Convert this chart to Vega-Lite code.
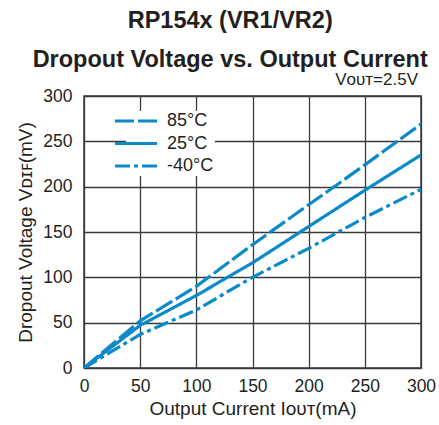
{
  "$schema": "https://vega.github.io/schema/vega-lite/v6.json",
  "autosize": "none",
  "width": 337,
  "height": 272,
  "padding": {"left": 84, "top": 96, "right": 18, "bottom": 57},
  "background": "white",
  "config": {
    "font": "Liberation Sans",
    "view": {"stroke": "#3a3a3a", "strokeWidth": 1.5},
    "axis": {
      "grid": true,
      "gridColor": "#3a3a3a",
      "gridWidth": 1.3,
      "gridOpacity": 1,
      "domain": false,
      "ticks": false,
      "labelFlush": false,
      "labelFont": "Liberation Sans",
      "labelFontSize": 17.5,
      "labelColor": "#231f20",
      "titleFont": "Liberation Sans",
      "titleFontSize": 19,
      "titleFontWeight": "normal",
      "titleColor": "#231f20"
    }
  },
  "title": {
    "text": ["RP154x (VR1/VR2)", "Dropout Voltage vs. Output Current"],
    "font": "Liberation Sans",
    "fontSize": 23.5,
    "fontWeight": "bold",
    "color": "#231f20",
    "anchor": "middle",
    "frame": "bounds",
    "lineHeight": 39,
    "offset": 0,
    "dx": 4
  },
  "data": {
    "values": [
      {"current": 0, "dropout": 0, "temp": "85°C"},
      {"current": 50, "dropout": 52, "temp": "85°C"},
      {"current": 100, "dropout": 90, "temp": "85°C"},
      {"current": 150, "dropout": 136, "temp": "85°C"},
      {"current": 200, "dropout": 180, "temp": "85°C"},
      {"current": 250, "dropout": 224, "temp": "85°C"},
      {"current": 300, "dropout": 269, "temp": "85°C"},
      {"current": 0, "dropout": 0, "temp": "25°C"},
      {"current": 50, "dropout": 47, "temp": "25°C"},
      {"current": 100, "dropout": 80, "temp": "25°C"},
      {"current": 150, "dropout": 116, "temp": "25°C"},
      {"current": 200, "dropout": 156, "temp": "25°C"},
      {"current": 250, "dropout": 196, "temp": "25°C"},
      {"current": 300, "dropout": 235, "temp": "25°C"},
      {"current": 0, "dropout": 0, "temp": "-40°C"},
      {"current": 50, "dropout": 37, "temp": "-40°C"},
      {"current": 100, "dropout": 64, "temp": "-40°C"},
      {"current": 150, "dropout": 100, "temp": "-40°C"},
      {"current": 200, "dropout": 132, "temp": "-40°C"},
      {"current": 250, "dropout": 166, "temp": "-40°C"},
      {"current": 300, "dropout": 197, "temp": "-40°C"}
    ]
  },
  "layer": [
    {
      "mark": {"type": "line", "color": "#0a8acb", "strokeWidth": 3.2, "clip": true},
      "encoding": {
        "x": {
          "field": "current", "type": "quantitative",
          "scale": {"domain": [0, 300], "nice": false},
          "axis": {"values": [0, 50, 100, 150, 200, 250, 300], "title": "Output Current Iᴏᴜᴛ(mA)", "labelPadding": 9, "titlePadding": 5}
        },
        "y": {
          "field": "dropout", "type": "quantitative",
          "scale": {"domain": [0, 300], "nice": false},
          "axis": {"values": [0, 50, 100, 150, 200, 250, 300], "title": "Dropout Voltage Vᴅɪꜰ(mV)", "labelPadding": 12, "titlePadding": 7}
        },
        "detail": {"field": "temp"},
        "strokeDash": {
          "field": "temp", "type": "nominal",
          "scale": {"domain": ["85°C", "25°C", "-40°C"], "range": [[19, 4], [1, 0], [15, 4, 4, 4]]},
          "legend": {
            "title": null,
            "orient": "none",
            "legendX": 42,
            "legendY": 15,
            "padding": 1,
            "fillColor": "white",
            "symbolType": "M-3,0H3",
            "symbolSize": 196,
            "symbolStrokeWidth": 3.2,
            "symbolStrokeColor": "#0a8acb",
            "labelFont": "Liberation Sans",
            "labelFontSize": 18,
            "labelColor": "#231f20",
            "labelOffset": 22,
            "rowPadding": 4.5
          }
        }
      }
    },
    {
      "data": {"values": [{"current": 300, "dropout": 300, "label": "Vᴏᴜᴛ=2.5V"}]},
      "mark": {"type": "text", "align": "right", "baseline": "alphabetic", "dy": -11, "dx": -3, "fontSize": 17, "color": "#231f20", "font": "Liberation Sans"},
      "encoding": {
        "x": {"field": "current", "type": "quantitative"},
        "y": {"field": "dropout", "type": "quantitative"},
        "text": {"field": "label"}
      }
    }
  ]
}
